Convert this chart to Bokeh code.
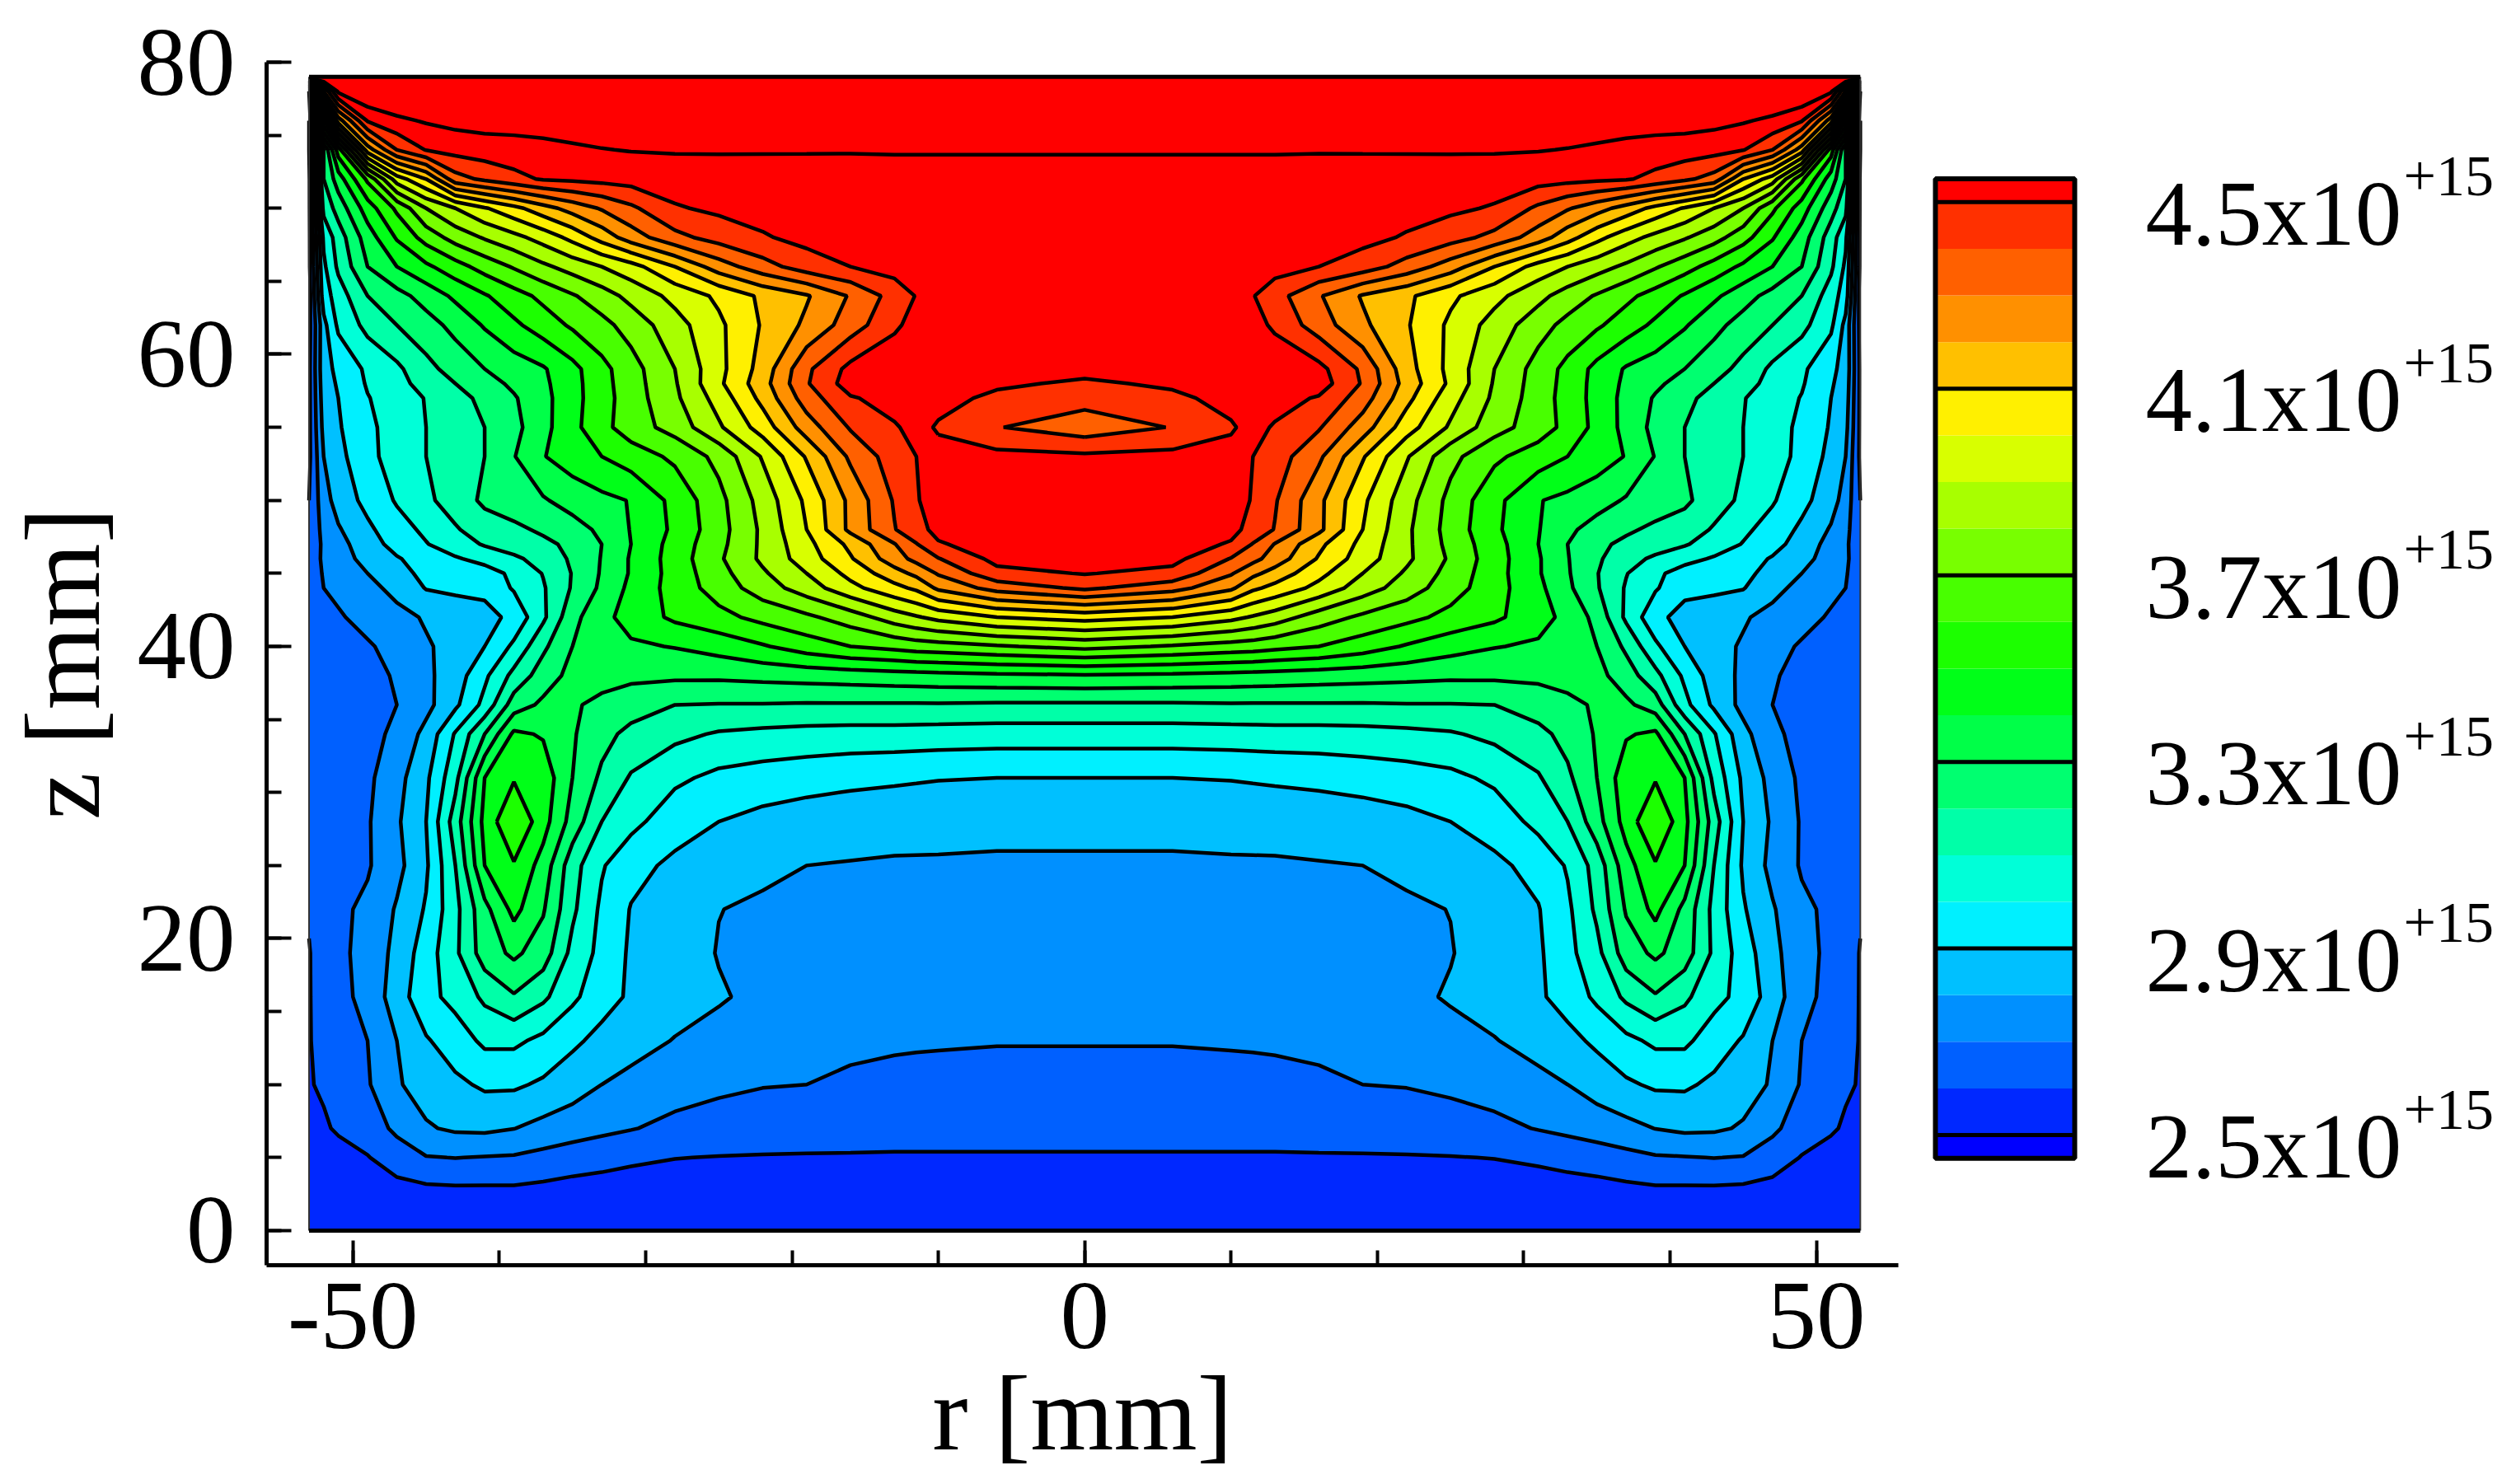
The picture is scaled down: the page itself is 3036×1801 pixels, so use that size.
import numpy as np

from bokeh.embed import file_html
from bokeh.layouts import row
from bokeh.models import FixedTicker, Range1d
from bokeh.plotting import figure
from bokeh.resources import INLINE

# density, in 1e15 units, half of the chamber (it is symmetric)
r_half = [0, 6, 10, 11.5, 13, 16, 19, 22, 25, 28, 31, 33, 35, 37, 39, 41, 43, 45, 47, 49, 51, 52, 53]
z_rows = [0, 3, 5, 7, 10, 13, 16, 19, 22, 25, 28, 31, 34, 36, 38, 40, 42, 44, 45, 46, 47, 48, 50, 53, 55, 57, 58, 59, 62, 64, 66, 68, 70, 72, 74, 76, 78, 79]

n00 = [2.51] * 23
n03 = [2.555, 2.555, 2.555, 2.555, 2.555, 2.555, 2.555, 2.555, 2.56, 2.56, 2.565, 2.57, 2.575, 2.585, 2.595, 2.595, 2.595, 2.59, 2.575, 2.56, 2.55, 2.54, 2.53]
n05 = [2.595, 2.595, 2.595, 2.595, 2.595, 2.595, 2.595, 2.595, 2.597, 2.602, 2.615, 2.63, 2.645, 2.67, 2.69, 2.695, 2.702, 2.695, 2.65, 2.595, 2.57, 2.55, 2.54]
n07 = [2.62, 2.62, 2.62, 2.62, 2.62, 2.625, 2.63, 2.64, 2.655, 2.675, 2.705, 2.725, 2.75, 2.77, 2.802, 2.82, 2.815, 2.79, 2.72, 2.65, 2.61, 2.59, 2.57]
n10 = [2.665, 2.665, 2.665, 2.667, 2.67, 2.68, 2.70, 2.705, 2.72, 2.74, 2.77, 2.80, 2.84, 2.885, 2.915, 2.915, 2.88, 2.84, 2.79, 2.69, 2.63, 2.61, 2.595]
n13 = [2.705, 2.705, 2.71, 2.712, 2.715, 2.725, 2.74, 2.75, 2.765, 2.795, 2.84, 2.87, 2.92, 2.975, 3.02, 3.02, 2.95, 2.89, 2.80, 2.70, 2.65, 2.63, 2.595]
n16 = [2.72, 2.72, 2.725, 2.73, 2.735, 2.745, 2.755, 2.775, 2.81, 2.845, 2.885, 2.94, 3.02, 3.12, 3.19, 3.12, 3.03, 2.97, 2.85, 2.73, 2.67, 2.64, 2.595]
n19 = [2.745, 2.745, 2.75, 2.752, 2.755, 2.765, 2.775, 2.785, 2.795, 2.85, 2.885, 2.97, 3.07, 3.25, 3.32, 3.25, 3.08, 2.95, 2.83, 2.73, 2.68, 2.65, 2.595]
n22 = [2.765, 2.77, 2.77, 2.772, 2.775, 2.78, 2.785, 2.785, 2.802, 2.85, 2.895, 2.98, 3.12, 3.31, 3.43, 3.27, 3.07, 2.91, 2.81, 2.72, 2.68, 2.66, 2.61]
n25 = [2.785, 2.785, 2.79, 2.79, 2.79, 2.795, 2.80, 2.82, 2.85, 2.88, 2.93, 3.01, 3.14, 3.36, 3.49, 3.40, 3.10, 2.885, 2.77, 2.69, 2.66, 2.64, 2.62]
n28 = [2.83, 2.83, 2.83, 2.832, 2.835, 2.84, 2.85, 2.87, 2.90, 2.94, 3.03, 3.10, 3.26, 3.44, 3.60, 3.43, 3.15, 2.90, 2.785, 2.69, 2.66, 2.645, 2.62]
n31 = [2.90, 2.90, 2.905, 2.91, 2.915, 2.925, 2.94, 2.955, 2.975, 3.02, 3.09, 3.18, 3.30, 3.46, 3.49, 3.40, 3.07, 2.88, 2.765, 2.68, 2.65, 2.64, 2.62]
n34 = [3.05, 3.05, 3.055, 3.057, 3.06, 3.06, 3.065, 3.075, 3.09, 3.125, 3.17, 3.235, 3.31, 3.39, 3.42, 3.20, 3.01, 2.83, 2.72, 2.67, 2.65, 2.64, 2.62]
n36 = [3.185, 3.185, 3.19, 3.19, 3.19, 3.19, 3.19, 3.195, 3.195, 3.20, 3.25, 3.28, 3.31, 3.32, 3.25, 3.03, 2.88, 2.77, 2.70, 2.67, 2.65, 2.64, 2.62]
n38 = [3.39, 3.38, 3.37, 3.365, 3.36, 3.35, 3.34, 3.33, 3.32, 3.32, 3.32, 3.33, 3.33, 3.25, 3.13, 2.98, 2.85, 2.78, 2.71, 2.67, 2.65, 2.64, 2.62]
n40 = [3.73, 3.69, 3.66, 3.65, 3.63, 3.60, 3.55, 3.49, 3.44, 3.405, 3.385, 3.36, 3.30, 3.18, 3.02, 2.90, 2.83, 2.79, 2.73, 2.69, 2.66, 2.65, 2.63]
n42 = [4.04, 4.0, 3.93, 3.89, 3.85, 3.75, 3.68, 3.63, 3.57, 3.52, 3.44, 3.37, 3.27, 3.08, 2.93, 2.86, 2.84, 2.81, 2.77, 2.73, 2.69, 2.67, 2.64]
n44 = [4.42, 4.34, 4.22, 4.12, 4.07, 3.97, 3.85, 3.75, 3.645, 3.54, 3.425, 3.32, 3.21, 3.09, 3.01, 2.93, 2.92, 2.905, 2.83, 2.77, 2.72, 2.70, 2.64]
n45 = [4.505, 4.47, 4.31, 4.225, 4.16, 4.03, 3.90, 3.785, 3.665, 3.54, 3.41, 3.31, 3.205, 3.105, 3.02, 2.96, 2.94, 2.93, 2.86, 2.80, 2.74, 2.71, 2.63]
n46 = [4.53, 4.53, 4.395, 4.33, 4.255, 4.09, 3.95, 3.82, 3.685, 3.545, 3.41, 3.305, 3.215, 3.14, 3.08, 3.03, 2.99, 2.95, 2.89, 2.83, 2.76, 2.72, 2.63]
n47 = [4.55, 4.55, 4.49, 4.395, 4.295, 4.125, 3.97, 3.82, 3.67, 3.54, 3.40, 3.30, 3.22, 3.18, 3.15, 3.11, 3.05, 2.995, 2.94, 2.85, 2.77, 2.72, 2.62]
n48 = [4.56, 4.56, 4.53, 4.465, 4.395, 4.225, 4.0, 3.82, 3.66, 3.52, 3.405, 3.32, 3.26, 3.215, 3.18, 3.15, 3.09, 3.02, 2.96, 2.88, 2.79, 2.73, 2.62]
n50 = [4.56, 4.56, 4.56, 4.49, 4.41, 4.225, 4.02, 3.84, 3.67, 3.53, 3.405, 3.375, 3.34, 3.29, 3.25, 3.22, 3.145, 3.08, 3.01, 2.93, 2.84, 2.76, 2.60]
n53 = [4.52, 4.53, 4.53, 4.50, 4.45, 4.32, 4.11, 3.91, 3.73, 3.62, 3.55, 3.50, 3.45, 3.395, 3.295, 3.20, 3.15, 3.10, 3.04, 2.975, 2.87, 2.80, 2.58]
n55 = [4.34, 4.405, 4.49, 4.53, 4.49, 4.41, 4.25, 4.045, 3.885, 3.74, 3.65, 3.57, 3.47, 3.37, 3.27, 3.20, 3.14, 3.10, 3.04, 2.98, 2.89, 2.83, 2.58]
n57 = [4.44, 4.48, 4.53, 4.55, 4.54, 4.49, 4.35, 4.13, 3.94, 3.78, 3.65, 3.56, 3.465, 3.37, 3.29, 3.225, 3.165, 3.105, 3.05, 2.995, 2.90, 2.85, 2.58]
n58 = [4.485, 4.515, 4.55, 4.565, 4.56, 4.55, 4.39, 4.16, 3.98, 3.79, 3.655, 3.565, 3.465, 3.38, 3.32, 3.26, 3.2, 3.135, 3.07, 3.01, 2.91, 2.86, 2.58]
n59 = [4.53, 4.55, 4.57, 4.58, 4.58, 4.53, 4.38, 4.14, 3.97, 3.80, 3.66, 3.57, 3.47, 3.39, 3.35, 3.30, 3.24, 3.17, 3.08, 3.02, 2.92, 2.87, 2.58]
n62 = [4.55, 4.56, 4.55, 4.54, 4.48, 4.35, 4.22, 4.11, 3.98, 3.86, 3.74, 3.67, 3.615, 3.55, 3.48, 3.41, 3.33, 3.26, 3.2, 3.13, 3.02, 2.87, 2.57]
n64 = [4.56, 4.57, 4.56, 4.505, 4.44, 4.31, 4.19, 4.12, 4.02, 3.93, 3.83, 3.755, 3.69, 3.625, 3.56, 3.49, 3.42, 3.34, 3.265, 3.2, 3.05, 2.95, 2.56]
n66 = [4.57, 4.57, 4.56, 4.55, 4.54, 4.50, 4.45, 4.36, 4.25, 4.1, 3.96, 3.90, 3.84, 3.78, 3.71, 3.64, 3.56, 3.48, 3.40, 3.30, 3.12, 2.98, 2.58]
n68 = [4.575, 4.575, 4.57, 4.565, 4.56, 4.55, 4.53, 4.49, 4.44, 4.37, 4.25, 4.14, 4.03, 3.94, 3.87, 3.81, 3.74, 3.64, 3.51, 3.35, 3.15, 3.02, 2.58]
n70 = [4.58, 4.58, 4.58, 4.58, 4.58, 4.57, 4.56, 4.54, 4.52, 4.49, 4.38, 4.31, 4.24, 4.16, 4.07, 3.99, 3.90, 3.80, 3.62, 3.45, 3.24, 3.13, 2.58]
n72 = [4.59, 4.59, 4.59, 4.59, 4.59, 4.58, 4.575, 4.57, 4.56, 4.55, 4.54, 4.53, 4.52, 4.51, 4.47, 4.42, 4.36, 4.1, 3.95, 3.62, 3.35, 3.2, 2.58]
n74 = [4.602, 4.602, 4.602, 4.602, 4.602, 4.603, 4.604, 4.605, 4.607, 4.608, 4.604, 4.597, 4.585, 4.57, 4.56, 4.55, 4.535, 4.505, 4.40, 4.15, 3.55, 3.2, 2.6]
n76 = [4.66, 4.66, 4.66, 4.66, 4.66, 4.66, 4.66, 4.66, 4.66, 4.66, 4.65, 4.65, 4.65, 4.645, 4.64, 4.64, 4.63, 4.61, 4.58, 4.51, 4.15, 3.7, 2.6]
n78 = [4.70, 4.70, 4.70, 4.70, 4.70, 4.70, 4.70, 4.70, 4.70, 4.70, 4.70, 4.70, 4.70, 4.70, 4.70, 4.70, 4.70, 4.70, 4.70, 4.70, 4.62, 4.3, 2.7]
n79 = [4.75] * 23

# contour levels and the tecplot-like band colours
levels = [2.4, 2.5, 2.6, 2.7, 2.8, 2.9, 3.0, 3.1, 3.2, 3.3, 3.4, 3.5, 3.6, 3.7, 3.8, 3.9, 4.0, 4.1, 4.2, 4.3, 4.4, 4.5, 4.6, 4.8]
band_colors = ["#0000FF", "#0028FF", "#0060FF", "#0090FF", "#00C0FF", "#00F0FF", "#00FFD8", "#00FFA8", "#00FF70",
               "#00FF48", "#00FF18", "#1CFF00", "#48FF00", "#78FF00", "#A8FF00", "#D8FF00", "#FFF000", "#FFC000",
               "#FF9000", "#FF6000", "#FF3000", "#FF0000", "#FF0000"]

# colour bar
bar_edges = [2.45, 2.5, 2.6, 2.7, 2.8, 2.9, 3.0, 3.1, 3.2, 3.3, 3.4, 3.5, 3.6, 3.7, 3.8, 3.9, 4.0, 4.1, 4.2, 4.3, 4.4, 4.5, 4.55]
bar_ticks = [2.5, 2.9, 3.3, 3.7, 4.1, 4.5]
bar_labels = ["2.5x10", "2.9x10", "3.3x10", "3.7x10", "4.1x10", "4.5x10"]
bar_power = ["+15"] * 6

x_major = [-50, 0, 50]
x_minor = [-50, -40, -30, -20, -10, 0, 10, 20, 30, 40, 50]
y_major = [0, 20, 40, 60, 80]
y_minor = [0, 5, 10, 15, 20, 25, 30, 35, 40, 45, 50, 55, 60, 65, 70, 75, 80]

FONT = "Liberation Serif"

half = np.array([n00, n03, n05, n07, n10, n13, n16, n19, n22, n25, n28, n31, n34, n36, n38, n40, n42, n44, n45, n46,
                 n47, n48, n50, n53, n55, n57, n58, n59, n62, n64, n66, n68, n70, n72, n74, n76, n78, n79])
r_half = np.array(r_half)
r_all = np.concatenate([-r_half[:0:-1], r_half])
dens = np.hstack([half[:, :0:-1], half])

p = figure(frame_width=1980, frame_height=1460, min_border_left=318, min_border_right=8, min_border_top=75,
           min_border_bottom=250, x_range=Range1d(-55.9, 55.6), y_range=Range1d(-2.37, 80),
           output_backend="svg", toolbar_location=None)
p.contour(r_all, z_rows, dens, levels, fill_color=band_colors, line_color="black", line_width=4.5)

# box around the solution domain
r_lo, r_hi, z_lo, z_hi = r_all.min(), r_all.max(), min(z_rows), max(z_rows)
p.segment([r_lo, r_hi], [z_lo, z_lo], [r_lo, r_hi], [z_hi, z_hi], line_color="#333333", line_width=2)
p.segment([r_lo, r_lo], [z_lo, z_hi], [r_hi, r_hi], [z_lo, z_hi], line_color="black", line_width=5)

p.grid.visible = False
p.outline_line_color = None
p.xaxis.ticker = FixedTicker(ticks=x_major, minor_ticks=x_minor)
p.yaxis.ticker = FixedTicker(ticks=y_major, minor_ticks=y_minor)
p.xaxis.major_label_overrides = {v: str(v) for v in x_major}
p.xaxis.axis_label = "r [mm]"
p.yaxis.axis_label = "z [mm]"
for ax in (p.xaxis[0], p.yaxis[0]):
    ax.axis_line_width = 5
    ax.axis_line_color = "black"
    ax.major_tick_in = 30
    ax.major_tick_out = 0
    ax.minor_tick_in = 18
    ax.minor_tick_out = 0
    ax.major_tick_line_width = 4
    ax.minor_tick_line_width = 4
    ax.major_tick_line_color = "black"
    ax.minor_tick_line_color = "black"
    ax.major_label_text_font = FONT
    ax.major_label_text_font_size = "119px"
    ax.major_label_text_color = "black"
    ax.axis_label_text_font = FONT
    ax.axis_label_text_font_size = "130px"
    ax.axis_label_text_font_style = "normal"
    ax.axis_label_text_color = "black"
p.xaxis.major_label_standoff = 22
p.yaxis.major_label_standoff = 38
p.xaxis.axis_label_standoff = 4
p.yaxis.axis_label_standoff = 16
p.yaxis.major_label_orientation = "horizontal"

# colour bar sits in its own figure, y axis in density units
cb = figure(frame_width=716, frame_height=1460, min_border_left=0, min_border_right=0, min_border_top=75,
            min_border_bottom=250, x_range=Range1d(0, 716), y_range=Range1d(2.221, 4.8),
            x_axis_type=None, y_axis_type=None, output_backend="svg", toolbar_location=None)
cb.grid.visible = False
cb.outline_line_color = None
n_bands = len(bar_edges) - 1
cb.quad(left=[37] * n_bands, right=[206] * n_bands, bottom=bar_edges[:-1], top=bar_edges[1:],
        fill_color=band_colors[:n_bands - 1] + band_colors[-1:], line_color=None)
cb.segment([37] * 6, bar_ticks, [206] * 6, bar_ticks, line_color="black", line_width=5)
cb.quad(left=[37], right=[206], bottom=[bar_edges[0]], top=[bar_edges[-1]], fill_color=None,
        line_color="black", line_width=6)
cb.text([292] * 6, bar_ticks, text=bar_labels, text_font=FONT, text_font_size="113px", text_color="black",
        text_baseline="alphabetic", y_offset=13)
cb.text([605] * 6, bar_ticks, text=bar_power, text_font=FONT, text_font_size="70px", text_color="black",
        text_baseline="alphabetic", y_offset=-31)

page = row(p, cb, spacing=0)
open("out.html", "w").write(file_html(page, INLINE))
